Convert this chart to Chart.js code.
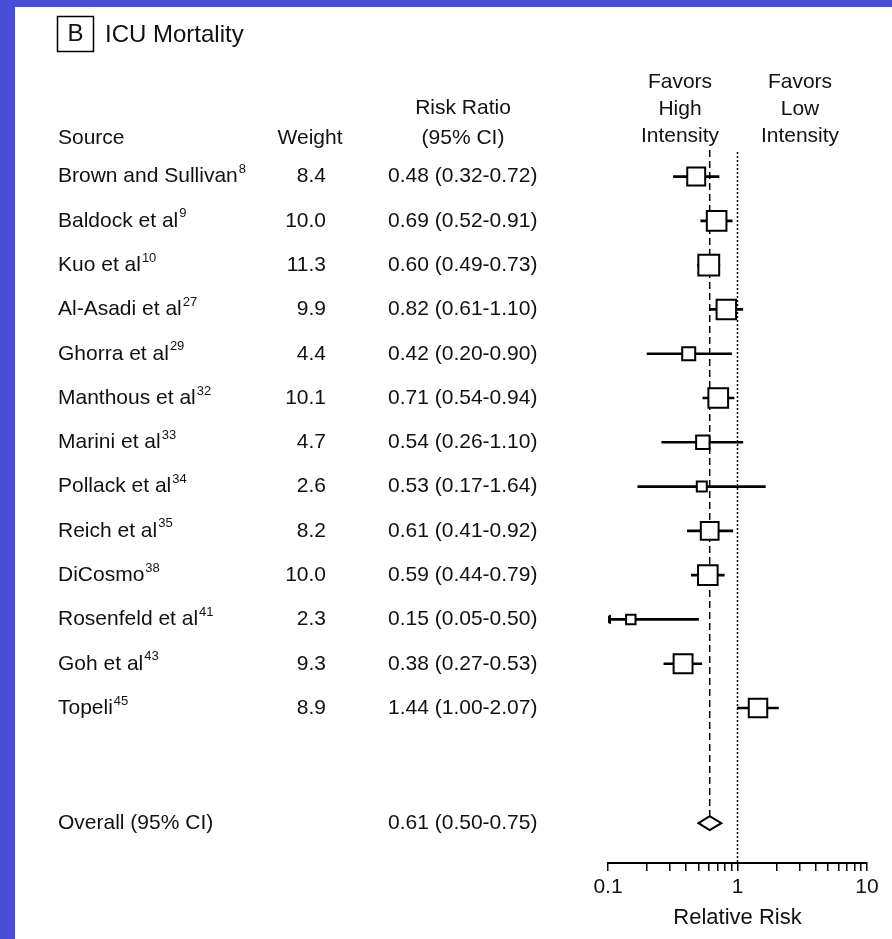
<!DOCTYPE html>
<html>
<head>
<meta charset="utf-8">
<title>ICU Mortality</title>
<script src="https://cdn.jsdelivr.net/npm/chart.js@4.4.1/dist/chart.umd.min.js"></script>
<style>
  html, body { margin: 0; padding: 0; background: #4a4ed6; }
  #c { display: block; }
</style>
</head>
<body>
<canvas id="c" width="892" height="939"></canvas>
<script>
// ---- study data ----
const sources = ['Brown and Sullivan', 'Baldock et al', 'Kuo et al', 'Al-Asadi et al', 'Ghorra et al',
  'Manthous et al', 'Marini et al', 'Pollack et al', 'Reich et al', 'DiCosmo', 'Rosenfeld et al',
  'Goh et al', 'Topeli'];
const refs = ['8', '9', '10', '27', '29', '32', '33', '34', '35', '38', '41', '43', '45'];
const weights = [8.4, 10.0, 11.3, 9.9, 4.4, 10.1, 4.7, 2.6, 8.2, 10.0, 2.3, 9.3, 8.9];
const riskRatios = [0.48, 0.69, 0.60, 0.82, 0.42, 0.71, 0.54, 0.53, 0.61, 0.59, 0.15, 0.38, 1.44];
const ciLow = [0.32, 0.52, 0.49, 0.61, 0.20, 0.54, 0.26, 0.17, 0.41, 0.44, 0.05, 0.27, 1.00];
const ciHigh = [0.72, 0.91, 0.73, 1.10, 0.90, 0.94, 1.10, 1.64, 0.92, 0.79, 0.50, 0.53, 2.07];

const overallLabel = 'Overall (95% CI)';
const overallRR = 0.61;
const overallLow = 0.50;
const overallHigh = 0.75;

// ---- axis ----
const axisTicks = [0.1, 0.2, 0.3, 0.4, 0.5, 0.6, 0.7, 0.8, 0.9, 1, 2, 3, 4, 5, 6, 7, 8, 9, 10];
const axisTickLabels = [0.1, 1, 10];
const axisTitle = 'Relative Risk';

// ---- layout / style ----
const X_MIN = 0.1, X_MAX = 10;
const OVERALL_ROW = 14.6;
const FONT_FAMILY = '"Liberation Sans", Arial, Helvetica, sans-serif';
const FONT = '21px ' + FONT_FAMILY;
const SUP_FONT = '13px ' + FONT_FAMILY;
const INK = '#111';
const COL_SOURCE = 58, COL_WEIGHT_RIGHT = 326, COL_RR = 388;
const DIAMOND_H = 7;

const rows = sources.map((_, i) => i);
const fmt2 = v => v.toFixed(2);
const ciText = (rr, lo, hi) => fmt2(rr) + ' (' + fmt2(lo) + '-' + fmt2(hi) + ')';
const squareSide = w => 6.2 * Math.sqrt(w);

const forestPlugin = {
  id: 'forest',
  beforeDraw(chart) {
    const { ctx } = chart;
    ctx.save();
    ctx.fillStyle = '#4a4ed6';
    ctx.fillRect(0, 0, chart.width, chart.height);
    ctx.fillStyle = '#ffffff';
    ctx.fillRect(15, 7, chart.width - 15, chart.height - 7);
    ctx.restore();
  },
  beforeDatasetsDraw(chart) {
    const { ctx, chartArea, scales: { x, y } } = chart;
    ctx.save();
    ctx.strokeStyle = '#000';
    // line of no effect
    const x1 = x.getPixelForValue(1);
    ctx.lineWidth = 1.5;
    ctx.setLineDash([2, 2]);
    ctx.beginPath();
    ctx.moveTo(x1, chartArea.top + 2);
    ctx.lineTo(x1, chartArea.bottom);
    ctx.stroke();
    // pooled estimate
    const xo = x.getPixelForValue(overallRR);
    const yo = y.getPixelForValue(OVERALL_ROW);
    ctx.setLineDash([7, 4]);
    ctx.beginPath();
    ctx.moveTo(xo, chartArea.top);
    ctx.lineTo(xo, yo - DIAMOND_H);
    ctx.stroke();
    ctx.restore();
  },
  afterDatasetsDraw(chart) {
    const { ctx, scales: { x, y } } = chart;
    const xl = x.getPixelForValue(overallLow);
    const xm = x.getPixelForValue(overallRR);
    const xh = x.getPixelForValue(overallHigh);
    const yo = y.getPixelForValue(OVERALL_ROW);
    ctx.save();
    ctx.beginPath();
    ctx.moveTo(xl, yo);
    ctx.lineTo(xm, yo - DIAMOND_H);
    ctx.lineTo(xh, yo);
    ctx.lineTo(xm, yo + DIAMOND_H);
    ctx.closePath();
    ctx.fillStyle = '#fff';
    ctx.fill();
    ctx.strokeStyle = '#000';
    ctx.lineWidth = 2;
    ctx.stroke();
    ctx.restore();
  },
  afterDraw(chart) {
    const { ctx, scales: { y } } = chart;
    ctx.save();
    ctx.fillStyle = INK;
    ctx.textBaseline = 'middle';

    // panel heading
    ctx.strokeStyle = '#000';
    ctx.lineWidth = 1.5;
    ctx.strokeRect(57.5, 16.5, 36, 35);
    ctx.font = '24px ' + FONT_FAMILY;
    ctx.textAlign = 'center';
    ctx.fillText('B', 75.5, 34.5);
    ctx.textAlign = 'left';
    ctx.fillText('ICU Mortality', 105, 35);

    // column headings
    ctx.font = FONT;
    ctx.fillText('Source', COL_SOURCE, 138);
    ctx.textAlign = 'center';
    ctx.fillText('Weight', 310, 138);
    ctx.fillText('Risk Ratio', 463, 108);
    ctx.fillText('(95% CI)', 463, 138);
    ['Favors', 'High', 'Intensity'].forEach((t, k) => ctx.fillText(t, 680, 82 + k * 27));
    ['Favors', 'Low', 'Intensity'].forEach((t, k) => ctx.fillText(t, 800, 82 + k * 27));

    // study rows
    rows.forEach(i => {
      const yy = y.getPixelForValue(i);
      ctx.font = FONT;
      ctx.textAlign = 'left';
      ctx.fillText(sources[i], COL_SOURCE, yy);
      const w = ctx.measureText(sources[i]).width;
      ctx.font = SUP_FONT;
      ctx.fillText(refs[i], COL_SOURCE + w + 1, yy - 7);
      ctx.font = FONT;
      ctx.textAlign = 'right';
      ctx.fillText(weights[i].toFixed(1), COL_WEIGHT_RIGHT, yy);
      ctx.textAlign = 'left';
      ctx.fillText(ciText(riskRatios[i], ciLow[i], ciHigh[i]), COL_RR, yy);
    });

    // pooled row
    const yo = y.getPixelForValue(OVERALL_ROW);
    ctx.font = FONT;
    ctx.textAlign = 'left';
    ctx.fillText(overallLabel, COL_SOURCE, yo);
    ctx.fillText(ciText(overallRR, overallLow, overallHigh), COL_RR, yo);
    ctx.restore();
  }
};

new Chart(document.getElementById('c'), {
  type: 'scatter',
  data: {
    datasets: [
      {
        // confidence intervals
        type: 'bar',
        indexAxis: 'y',
        data: rows.map(i => ({ y: i, x: [Math.max(ciLow[i], X_MIN), Math.min(ciHigh[i], X_MAX)] })),
        backgroundColor: '#000',
        borderWidth: 0,
        barThickness: 2,
        order: 3
      },
      {
        // truncated intervals
        type: 'scatter',
        data: rows.filter(i => ciLow[i] < X_MIN).map(i => ({ x: X_MIN, y: i })),
        pointStyle: 'triangle',
        rotation: -90,
        pointRadius: 5,
        backgroundColor: '#000',
        borderColor: '#000',
        borderWidth: 1,
        order: 2
      },
      {
        // point estimates, sized by weight
        type: 'scatter',
        data: rows.map(i => ({ x: riskRatios[i], y: i })),
        pointStyle: 'rect',
        pointRadius: weights.map(w => squareSide(w) / Math.SQRT2),
        backgroundColor: '#fff',
        borderColor: '#000',
        borderWidth: 2,
        order: 1
      }
    ]
  },
  options: {
    responsive: false,
    devicePixelRatio: 1,
    animation: false,
    events: [],
    layout: { padding: { left: 608, right: 25, top: 150, bottom: 0 } },
    plugins: { legend: { display: false }, tooltip: { enabled: false } },
    scales: {
      x: {
        type: 'logarithmic',
        min: X_MIN,
        max: X_MAX,
        position: 'bottom',
        afterBuildTicks: s => { s.ticks = axisTicks.map(v => ({ value: v })); },
        afterFit: s => { s.height = 76; },
        ticks: {
          autoSkip: false,
          maxRotation: 0,
          padding: 4,
          color: INK,
          font: { family: FONT_FAMILY, size: 21 },
          callback: v => axisTickLabels.includes(v) ? String(v) : ''
        },
        grid: { drawOnChartArea: false, drawTicks: true, tickLength: 8, color: '#000', lineWidth: 1.5 },
        border: { display: true, color: '#000', width: 2 },
        title: {
          display: true,
          text: axisTitle,
          color: INK,
          font: { family: FONT_FAMILY, size: 22 },
          padding: { top: 0, bottom: 8 }
        }
      },
      y: {
        type: 'linear',
        reverse: true,
        offset: false,
        min: -0.6,
        max: 15.5,
        display: false
      }
    }
  },
  plugins: [forestPlugin]
});
</script>
</body>
</html>
